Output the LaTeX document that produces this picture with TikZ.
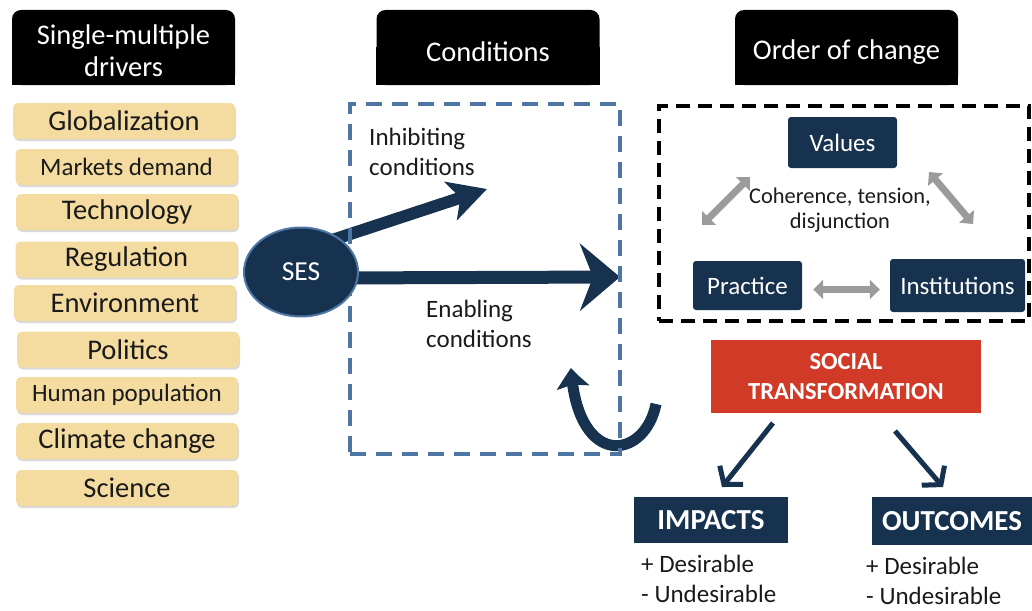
\documentclass[tikz,border=0pt]{standalone}
\usepackage{fontspec}
\setmainfont{Carlito}
\usetikzlibrary{arrows.meta,shadows,bending,shapes.geometric}
\definecolor{navy}{HTML}{17324F}
\definecolor{tanfill}{HTML}{F4DCA0}
\definecolor{sred}{HTML}{D03A27}
\definecolor{sblue}{HTML}{4D76A4}
\definecolor{agray}{HTML}{9B9B9B}
\definecolor{ink}{HTML}{1A1A1A}
\newcommand{\fsz}[2]{\fontsize{#1}{#2}\selectfont}
\pgfdeclarelayer{bg}
\pgfsetlayers{bg,main}
\tikzset{
  hdr/.style={fill=black, rounded corners=9pt, minimum width=223pt, minimum height=75pt, inner sep=0pt},
  hdrtext/.style={text=white, align=center, inner sep=0pt, font=\fsz{28.5}{32}},
  drv/.style={fill=tanfill, rounded corners=5pt, minimum width=222pt, minimum height=36pt, inner sep=0pt, text=ink,
     drop shadow={shadow xshift=1pt, shadow yshift=-2pt, opacity=0.3, fill=gray}},
  big/.style={font=\fsz{28.5}{32}},
  small/.style={font=\fsz{25}{28}},
  navybox/.style={fill=navy, rounded corners=3pt, text=white, inner sep=0pt, font=\fsz{25}{28}},
  lbl/.style={text=ink, align=left, inner sep=0pt, font=\fsz{25}{30}},
  condframe/.style={draw=sblue, line width=3.5pt, dash pattern=on 16pt off 10pt, minimum width=270pt, minimum height=350pt, inner sep=0pt},
  ocframe/.style={draw=black, line width=4pt, dash pattern=on 14pt off 8pt, minimum width=370pt, minimum height=215pt, inner sep=0pt},
  garrow/.style={draw=agray, line width=7pt, {Triangle[length=10pt,width=19pt]}-{Triangle[length=10pt,width=19pt]}},
  narrow/.style={draw=navy, line width=5pt, -{Straight Barb[length=12pt,width=30pt]}},
  bigarrow/.style={draw=navy},
}
\begin{document}
\begin{tikzpicture}[x=1pt,y=-1pt]
\useasboundingbox (0,0) rectangle (1032,610);
% headers
\node[hdr] (h1) at (123.5,47.5) {};
\node[hdr] (h2) at (488,47.5) {};
\node[hdr] (h3) at (846.5,47.5) {};
\begin{pgfonlayer}{bg}
\fill[black] (h1.west) rectangle (h1.south east);
\fill[black] (h2.west) rectangle (h2.south east);
\fill[black] (h3.west) rectangle (h3.south east);
\end{pgfonlayer}
\node[hdrtext] (h1t) at (123.5,51) {Single-multiple\\drivers};
\node[hdrtext] (h2t) at (488,52) {Conditions};
\node[hdrtext] (h3t) at (846.5,52) {Order of change};
% drivers
\node[drv,big] (d1) at (124,121) {Globalization};
\node[drv,small] (d2) at (126.5,167) {Markets demand};
\node[drv,big] (d3) at (127,212) {Technology};
\node[drv,big] (d4) at (126.5,259.5) {Regulation};
\node[drv,big] (d5) at (125,303) {Environment};
\node[drv,big] (d6) at (128,349.5) {Politics};
\node[drv,small] (d7) at (127,395) {Human population};
\node[drv,big] (d8) at (127,441) {Climate change};
\node[drv,big] (d9) at (127,488) {Science};
% conditions
\node[condframe] (cond) at (485,279) {};
\node[ellipse, fill=navy, draw=sblue, line width=2pt, minimum width=114pt, minimum height=89pt, text=white, font=\fsz{27.5}{30}] (ses) at (301,272) {SES};
\coordinate (sesA) at (320,244);
\coordinate (inh) at (487,189);
\coordinate (sesB) at (330,278);
\coordinate (enb) at (620,277);
\coordinate (cA) at (656,404);
\coordinate (cB) at (571,368);
\begin{pgfonlayer}{bg}
\draw[bigarrow, line width=12pt, -{Stealth[length=38pt,width=40pt,inset=10pt]}] (sesA) -- (inh);
\draw[bigarrow, line width=13pt, -{Stealth[length=40pt,width=67pt,inset=13pt]}] (sesB) -- (enb);
\draw[bigarrow, line width=11pt, -{Stealth[length=20pt,width=32pt,inset=3pt,bend]}] (cA) .. controls (645,460) and (577,470) .. (cB);
\end{pgfonlayer}
\node[lbl, anchor=west] (inhl) at (369,152) {Inhibiting\\conditions};
\node[lbl, anchor=west] (enl) at (426,323.5) {Enabling\\conditions};
% order of change
\node[ocframe] (oc) at (844,213.5) {};
\node[navybox, minimum width=109pt, minimum height=51pt] (values) at (842.5,142.5) {Values};
\node[navybox, minimum width=109pt, minimum height=49pt] (practice) at (747.5,285.5) {Practice};
\node[navybox, minimum width=135pt, minimum height=53pt] (inst) at (957.5,285.5) {Institutions};
\node[text=ink, align=center, inner sep=0pt, font=\fsz{22.4}{25}] (coh) at (840,210.5) {Coherence, tension,\\disjunction};
\coordinate (g1a) at (702,225);
\coordinate (g1b) at (750,177);
\coordinate (g2a) at (929,172);
\coordinate (g2b) at (973,224);
\draw[garrow] (g1a) -- (g1b);
\draw[garrow] (g2a) -- (g2b);
\draw[garrow, shorten <=11pt, shorten >=10pt] ([yshift=-4pt]practice.east) -- ([yshift=-4pt]inst.west);
% social transformation
\node[fill=sred, text=white, align=center, minimum width=270pt, minimum height=73pt, inner sep=0pt, font=\bfseries\fsz{24.5}{30}] (st) at (846,376.5) {SOCIAL\\TRANSFORMATION};
\node[fill=navy, text=white, minimum width=154pt, minimum height=46pt, inner sep=0pt, font=\bfseries\fsz{29}{32}] (imp) at (711,520) {IMPACTS};
\node[fill=navy, text=white, minimum width=160pt, minimum height=48pt, inner sep=0pt, font=\bfseries\fsz{29}{32}] (out) at (952,521) {OUTCOMES};
\coordinate (s1a) at (773,423);
\coordinate (s1b) at (722,487);
\coordinate (s2a) at (895,431);
\coordinate (s2b) at (943,487);
\draw[narrow] (s1a) -- (s1b);
\draw[narrow] (s2a) -- (s2b);
\node[lbl, anchor=west] (impt) at (641,579) {+ Desirable\\- Undesirable};
\node[lbl, anchor=west] (outt) at (866,580.5) {+ Desirable\\- Undesirable};
\end{tikzpicture}
\end{document}
